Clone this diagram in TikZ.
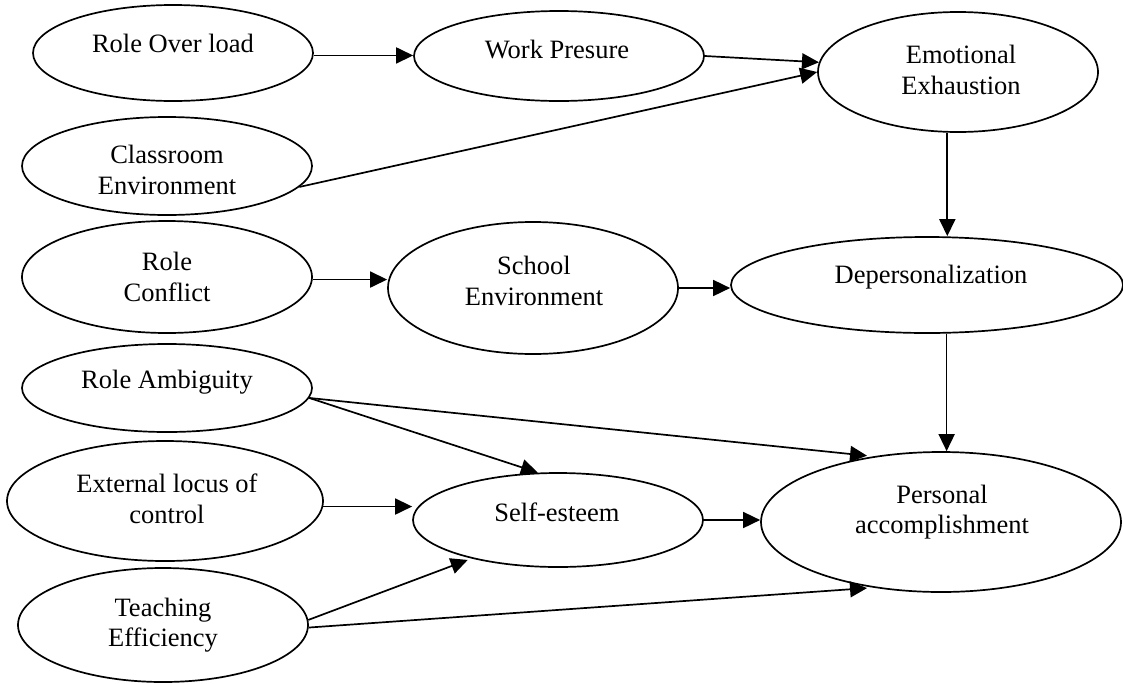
\documentclass[tikz,border=0pt]{standalone}
\usepackage{fontspec}
\setmainfont{Liberation Serif}
\usetikzlibrary{shapes.geometric,arrows.meta}
\begin{document}
\begin{tikzpicture}[x=1pt,y=-1pt,
  oval/.style 2 args={ellipse,draw,line width=1.7pt,inner sep=0pt,minimum width=#1,minimum height=#2},
  lbl/.style={font=\fontsize{26.5}{30.5}\selectfont,align=center,inner sep=0pt},
  arr/.style={line width=1.7pt,-{Triangle[length=17pt,width=16pt]}}]
\useasboundingbox (0,0) rectangle (1123,683);
% ellipses
\node[oval={280pt}{96pt}]  (RO) at (173,53) {};
\node[oval={290pt}{90pt}]  (WP) at (559,56) {};
\node[oval={280pt}{120pt}] (EE) at (958,72) {};
\node[oval={290pt}{98pt}]  (CE) at (167,166) {};
\node[oval={290pt}{112pt}] (RC) at (167,277) {};
\node[oval={290pt}{132pt}] (SE) at (533,288) {};
\node[oval={392pt}{96pt}]  (DP) at (927,285) {};
\node[oval={290pt}{88pt}]  (RA) at (167,388) {};
\node[oval={316pt}{120pt}] (EL) at (165,501) {};
\node[oval={290pt}{94pt}]  (SF) at (558,520) {};
\node[oval={360pt}{140pt}] (PA) at (941,522) {};
\node[oval={290pt}{114pt}] (TE) at (163,625) {};
% labels
\node[lbl] (ROt) at (173,43)  {Role Over load};
\node[lbl] (WPt) at (557,50)  {Work Presure};
\node[lbl] (EEt) at (961,70)  {Emotional\\Exhaustion};
\node[lbl] (CEt) at (167,170) {Classroom\\Environment};
\node[lbl] (RCt) at (167,277) {Role\\Conflict};
\node[lbl] (SEt) at (534,281) {School\\Environment};
\node[lbl] (DPt) at (931,277) {Depersonalization};
\node[lbl] (RAt) at (167,382) {Role Ambiguity};
\node[lbl] (ELt) at (167,499) {External locus of\\control};
\node[lbl] (SFt) at (557,512) {Self-esteem};
\node[lbl] (PAt) at (942,512) {Personal\\accomplishment};
\node[lbl] (TEt) at (163,625) {Teaching\\Efficiency};
% helper coordinates
\coordinate (roE) at (RO.-1.6);
\coordinate (eeS) at (EE.-100.4);
\coordinate (rcE) at (RC.-1.6);
\coordinate (seE) at (SE.east);
\coordinate (dpS) at (DP.-68.3);
\coordinate (elE) at (EL.-2.6);
\coordinate (sfE) at (SF.east);
% connectors
\draw[arr] (roE) -- (roE -| WP.west);
\draw[arr] (WP.east) -- (EE.176);
\draw[arr] (CE.-9.1) -- (EE.west);
\draw[arr] (eeS) -- (eeS |- DP.north);
\draw[arr] (rcE) -- (rcE -| SE.west);
\draw[arr] (seE) -- (seE -| DP.west);
\draw[arr] (dpS) -- (dpS |- PA.north);
\draw[arr,shorten >=6pt] (RA.-4.1) -- (PA.136.6);
\draw[arr] (RA.-4.1) -- (SF.113);
\draw[arr] (elE) -- (elE -| SF.west);
\draw[arr,shorten >=4pt] (TE.2.4) -- (SF.204.5);
\draw[arr,shorten >=6pt] (TE.-1) -- (PA.-136.6);
\draw[arr] (sfE) -- (sfE -| PA.west);
\end{tikzpicture}
\end{document}
